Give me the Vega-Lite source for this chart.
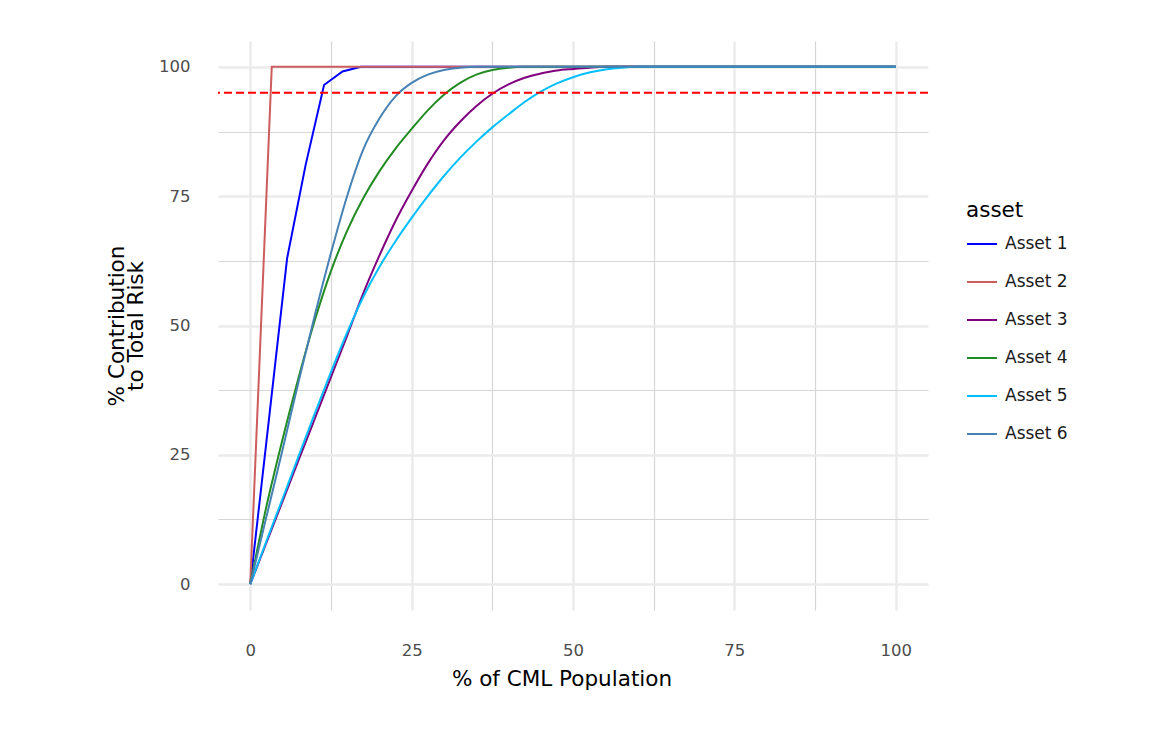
{
  "$schema": "https://vega.github.io/schema/vega-lite/v6.json",
  "autosize": "none",
  "width": 710,
  "height": 569,
  "padding": {"left": 218, "top": 41, "right": 237, "bottom": 133},
  "background": "white",
  "config": {
    "font": "DejaVu Sans",
    "view": {"stroke": null}
  },
  "datasets": {
    "kinked": [
      {"x": 0, "y": 0, "asset": "Asset 1"},
      {"x": 2.86, "y": 31.5, "asset": "Asset 1"},
      {"x": 5.71, "y": 63, "asset": "Asset 1"},
      {"x": 8.57, "y": 81, "asset": "Asset 1"},
      {"x": 11.43, "y": 96.5, "asset": "Asset 1"},
      {"x": 14.29, "y": 99.1, "asset": "Asset 1"},
      {"x": 17.14, "y": 100, "asset": "Asset 1"},
      {"x": 100, "y": 100, "asset": "Asset 1"},

      {"x": 0, "y": 0, "asset": "Asset 2"},
      {"x": 3.33, "y": 100, "asset": "Asset 2"},
      {"x": 100, "y": 100, "asset": "Asset 2"}
    ],
    "smooth": [
      {"x": 0, "y": 0, "asset": "Asset 3"},
      {"x": 2.5, "y": 8, "asset": "Asset 3"},
      {"x": 5, "y": 16, "asset": "Asset 3"},
      {"x": 7.5, "y": 24, "asset": "Asset 3"},
      {"x": 10, "y": 32, "asset": "Asset 3"},
      {"x": 12.5, "y": 40, "asset": "Asset 3"},
      {"x": 15, "y": 48, "asset": "Asset 3"},
      {"x": 17.5, "y": 56.2, "asset": "Asset 3"},
      {"x": 20, "y": 63.5, "asset": "Asset 3"},
      {"x": 22.5, "y": 70.2, "asset": "Asset 3"},
      {"x": 25, "y": 76, "asset": "Asset 3"},
      {"x": 27.5, "y": 81.3, "asset": "Asset 3"},
      {"x": 30, "y": 85.8, "asset": "Asset 3"},
      {"x": 32.5, "y": 89.4, "asset": "Asset 3"},
      {"x": 35, "y": 92.4, "asset": "Asset 3"},
      {"x": 37.5, "y": 94.8, "asset": "Asset 3"},
      {"x": 40, "y": 96.6, "asset": "Asset 3"},
      {"x": 42.5, "y": 97.9, "asset": "Asset 3"},
      {"x": 45, "y": 98.7, "asset": "Asset 3"},
      {"x": 47.5, "y": 99.3, "asset": "Asset 3"},
      {"x": 50, "y": 99.6, "asset": "Asset 3"},
      {"x": 52.5, "y": 99.85, "asset": "Asset 3"},
      {"x": 55, "y": 100, "asset": "Asset 3"},
      {"x": 100, "y": 100, "asset": "Asset 3"},

      {"x": 0, "y": 0, "asset": "Asset 4"},
      {"x": 2.5, "y": 15, "asset": "Asset 4"},
      {"x": 5, "y": 28, "asset": "Asset 4"},
      {"x": 7.5, "y": 40, "asset": "Asset 4"},
      {"x": 10, "y": 51, "asset": "Asset 4"},
      {"x": 12.5, "y": 60.5, "asset": "Asset 4"},
      {"x": 15, "y": 68.3, "asset": "Asset 4"},
      {"x": 17.5, "y": 74.6, "asset": "Asset 4"},
      {"x": 20, "y": 79.8, "asset": "Asset 4"},
      {"x": 22.5, "y": 84.2, "asset": "Asset 4"},
      {"x": 25, "y": 88, "asset": "Asset 4"},
      {"x": 27.5, "y": 91.6, "asset": "Asset 4"},
      {"x": 30, "y": 94.6, "asset": "Asset 4"},
      {"x": 32.5, "y": 96.9, "asset": "Asset 4"},
      {"x": 35, "y": 98.5, "asset": "Asset 4"},
      {"x": 37.5, "y": 99.4, "asset": "Asset 4"},
      {"x": 40, "y": 99.85, "asset": "Asset 4"},
      {"x": 42.5, "y": 100, "asset": "Asset 4"},
      {"x": 100, "y": 100, "asset": "Asset 4"},

      {"x": 0, "y": 0, "asset": "Asset 5"},
      {"x": 2.5, "y": 8.3, "asset": "Asset 5"},
      {"x": 5, "y": 16.5, "asset": "Asset 5"},
      {"x": 7.5, "y": 24.8, "asset": "Asset 5"},
      {"x": 10, "y": 33, "asset": "Asset 5"},
      {"x": 12.5, "y": 41, "asset": "Asset 5"},
      {"x": 15, "y": 48.6, "asset": "Asset 5"},
      {"x": 17.5, "y": 55.5, "asset": "Asset 5"},
      {"x": 20, "y": 61.3, "asset": "Asset 5"},
      {"x": 22.5, "y": 66.3, "asset": "Asset 5"},
      {"x": 25, "y": 70.8, "asset": "Asset 5"},
      {"x": 27.5, "y": 75, "asset": "Asset 5"},
      {"x": 30, "y": 78.9, "asset": "Asset 5"},
      {"x": 32.5, "y": 82.4, "asset": "Asset 5"},
      {"x": 35, "y": 85.5, "asset": "Asset 5"},
      {"x": 37.5, "y": 88.3, "asset": "Asset 5"},
      {"x": 40, "y": 90.8, "asset": "Asset 5"},
      {"x": 42.5, "y": 93.2, "asset": "Asset 5"},
      {"x": 45, "y": 95.2, "asset": "Asset 5"},
      {"x": 47.5, "y": 96.8, "asset": "Asset 5"},
      {"x": 50, "y": 98, "asset": "Asset 5"},
      {"x": 52.5, "y": 98.9, "asset": "Asset 5"},
      {"x": 55, "y": 99.5, "asset": "Asset 5"},
      {"x": 57.5, "y": 99.85, "asset": "Asset 5"},
      {"x": 60, "y": 100, "asset": "Asset 5"},
      {"x": 100, "y": 100, "asset": "Asset 5"},

      {"x": 0, "y": 0, "asset": "Asset 6"},
      {"x": 2.5, "y": 13, "asset": "Asset 6"},
      {"x": 5, "y": 26, "asset": "Asset 6"},
      {"x": 7.5, "y": 39.2, "asset": "Asset 6"},
      {"x": 10, "y": 52, "asset": "Asset 6"},
      {"x": 12.5, "y": 64, "asset": "Asset 6"},
      {"x": 15, "y": 75, "asset": "Asset 6"},
      {"x": 17.5, "y": 84, "asset": "Asset 6"},
      {"x": 20, "y": 90, "asset": "Asset 6"},
      {"x": 22.5, "y": 94.3, "asset": "Asset 6"},
      {"x": 25, "y": 96.9, "asset": "Asset 6"},
      {"x": 27.5, "y": 98.5, "asset": "Asset 6"},
      {"x": 30, "y": 99.4, "asset": "Asset 6"},
      {"x": 32.5, "y": 99.85, "asset": "Asset 6"},
      {"x": 35, "y": 100, "asset": "Asset 6"},
      {"x": 100, "y": 100, "asset": "Asset 6"}
    ]
  },
  "encoding": {
    "x": {
      "field": "x", "type": "quantitative",
      "scale": {"domain": [-5, 105], "nice": false, "zero": false},
      "axis": {
        "values": [0, 12.5, 25, 37.5, 50, 62.5, 75, 87.5, 100],
        "labelExpr": "datum.value % 25 === 0 ? datum.label : ''",
        "domain": false, "ticks": false, "tickSize": 0,
        "labelPadding": 32, "labelFontSize": 16.5, "labelColor": "#4d4d4d",
        "labelFont": "DejaVu Sans",
        "gridColor": {"condition": {"test": "datum.value % 25 === 0", "value": "#ebebeb"}, "value": "#d6d6d6"},
        "gridWidth": {"condition": {"test": "datum.value % 25 === 0", "value": 2.5}, "value": 1.2},
        "title": "% of CML Population",
        "titleFont": "DejaVu Sans", "titleFontSize": 21.5, "titleFontWeight": "normal",
        "titleColor": "#000000", "titlePadding": 10, "titleX": 343.5
      }
    },
    "y": {
      "field": "y", "type": "quantitative",
      "scale": {"domain": [-5, 105], "nice": false, "zero": false},
      "axis": {
        "values": [0, 12.5, 25, 37.5, 50, 62.5, 75, 87.5, 100],
        "labelExpr": "datum.value % 25 === 0 ? datum.label : ''",
        "domain": false, "ticks": false, "tickSize": 0,
        "labelPadding": 28, "labelFontSize": 16.5, "labelColor": "#4d4d4d",
        "labelFont": "DejaVu Sans",
        "gridColor": {"condition": {"test": "datum.value % 25 === 0", "value": "#ebebeb"}, "value": "#d6d6d6"},
        "gridWidth": {"condition": {"test": "datum.value % 25 === 0", "value": 2.5}, "value": 1.2},
        "title": ["% Contribution", "to Total Risk"],
        "titleFont": "DejaVu Sans", "titleFontSize": 21.5, "titleFontWeight": "normal",
        "titleColor": "#000000", "titlePadding": 11, "titleLineHeight": 19
      }
    },
    "color": {
      "field": "asset", "type": "nominal",
      "scale": {
        "domain": ["Asset 1", "Asset 2", "Asset 3", "Asset 4", "Asset 5", "Asset 6"],
        "range": ["#0000ff", "#cd5c5c", "#800080", "#228b22", "#00bfff", "#4682b4"]
      },
      "legend": {
        "title": "asset",
        "orient": "none",
        "legendX": 748,
        "legendY": 159,
        "padding": 0,
        "titleFont": "DejaVu Sans", "titleFontSize": 21.5, "titleFontWeight": "normal",
        "titleColor": "#000000", "titlePadding": 6.5,
        "labelFont": "DejaVu Sans", "labelFontSize": 17, "labelColor": "#1a1a1a",
        "labelOffset": 7,
        "symbolType": "stroke", "symbolSize": 900, "symbolStrokeWidth": 2,
        "rowPadding": 14
      }
    }
  },
  "layer": [
    {
      "data": {"name": "kinked"},
      "mark": {"type": "line", "strokeWidth": 2, "clip": true}
    },
    {
      "data": {"name": "smooth"},
      "mark": {"type": "line", "strokeWidth": 2, "clip": true, "interpolate": "monotone"}
    },
    {
      "data": {"values": [{"ref": 95}]},
      "mark": {"type": "rule", "color": "#ff0000", "strokeWidth": 2, "strokeDash": [8, 4]},
      "encoding": {
        "x": null,
        "color": null,
        "y": {"field": "ref", "type": "quantitative"}
      }
    }
  ]
}
